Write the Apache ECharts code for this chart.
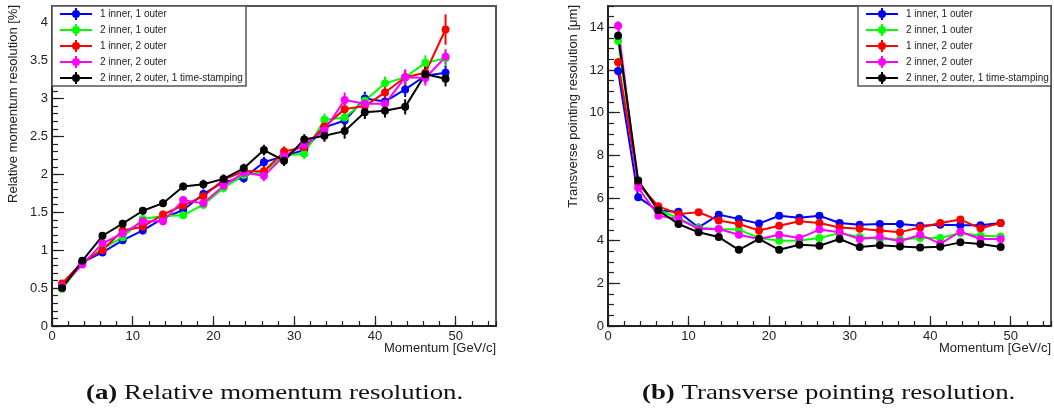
<!DOCTYPE html>
<html>
<head>
<meta charset="utf-8">
<script src="https://cdn.jsdelivr.net/npm/echarts@6/dist/echarts.min.js"></script>
<style>
html, body { margin: 0; padding: 0; background: #fff; }
#main { width: 1054px; height: 410px; }
</style>
</head>
<body>
<div id="main"></div>
<script>
// momentum bin centres [GeV/c]
const momentum = [1.25, 3.75, 6.25, 8.75, 11.25, 13.75, 16.25, 18.75, 21.25, 23.75,
  26.25, 28.75, 31.25, 33.75, 36.25, 38.75, 41.25, 43.75, 46.25, 48.75];

const names = ['1 inner, 1 outer', '2 inner, 1 outer', '1 inner, 2 outer', '2 inner, 2 outer',
  '2 inner, 2 outer, 1 time-stamping'];
const colors = ['#0000ff', '#00ff00', '#ff0000', '#ff00ff', '#000000'];

// (a) relative momentum resolution [%]
const momBlue = [0.53, 0.84, 0.97, 1.13, 1.26, 1.42, 1.53, 1.74, 1.9, 1.95, 2.16, 2.24, 2.32, 2.62, 2.71, 3.0, 2.96, 3.12, 3.3, 3.34];
const momGreen = [0.49, 0.84, 1.02, 1.17, 1.41, 1.45, 1.46, 1.6, 1.82, 1.99, 2.03, 2.25, 2.27, 2.72, 2.75, 2.97, 3.2, 3.28, 3.47, 3.53];
const momRed = [0.56, 0.84, 1.0, 1.26, 1.31, 1.47, 1.59, 1.71, 1.93, 2.04, 2.04, 2.3, 2.36, 2.63, 2.86, 2.9, 3.08, 3.28, 3.34, 3.91];
const momMagenta = [0.52, 0.81, 1.09, 1.22, 1.38, 1.38, 1.66, 1.62, 1.85, 2.02, 1.98, 2.24, 2.39, 2.58, 2.98, 2.93, 2.93, 3.28, 3.27, 3.55];
const momBlack = [0.5, 0.86, 1.19, 1.35, 1.52, 1.62, 1.84, 1.87, 1.94, 2.08, 2.32, 2.18, 2.46, 2.51, 2.57, 2.82, 2.84, 2.89, 3.32, 3.26];
const momErr = [0.03, 0.03, 0.04, 0.05, 0.05, 0.05, 0.05, 0.06, 0.06, 0.06, 0.07, 0.07, 0.07, 0.08, 0.1, 0.09, 0.09, 0.1, 0.1, 0.1];
const momErrRed = [0.03, 0.03, 0.04, 0.05, 0.05, 0.05, 0.05, 0.06, 0.06, 0.06, 0.07, 0.07, 0.07, 0.08, 0.1, 0.09, 0.09, 0.1, 0.1, 0.2];

// (b) transverse pointing resolution [um]
const ptBlue = [11.95, 6.04, 5.4, 5.35, 4.62, 5.22, 5.02, 4.8, 5.17, 5.07, 5.17, 4.83, 4.75, 4.78, 4.78, 4.7, 4.75, 4.72, 4.72, 4.83];
const ptGreen = [13.37, 6.7, 5.45, 5.05, 4.6, 4.55, 4.52, 4.12, 4.0, 4.01, 4.12, 4.36, 4.17, 4.08, 4.05, 4.12, 4.12, 4.36, 4.23, 4.2];
const ptRed = [12.36, 6.68, 5.61, 5.25, 5.33, 4.95, 4.78, 4.48, 4.7, 4.91, 4.83, 4.62, 4.56, 4.48, 4.4, 4.62, 4.83, 4.99, 4.58, 4.83];
const ptMagenta = [14.08, 6.48, 5.17, 5.02, 4.55, 4.55, 4.28, 4.08, 4.28, 4.12, 4.52, 4.39, 4.08, 4.17, 3.97, 4.28, 3.86, 4.42, 4.08, 4.08];
const ptBlack = [13.61, 6.82, 5.42, 4.78, 4.39, 4.17, 3.57, 4.08, 3.57, 3.81, 3.76, 4.08, 3.7, 3.78, 3.73, 3.68, 3.72, 3.92, 3.84, 3.7];
const ptErr = [0.2, 0.08, 0.05, 0.05, 0.05, 0.05, 0.05, 0.05, 0.05, 0.05, 0.05, 0.05, 0.05, 0.05, 0.05, 0.05, 0.05, 0.05, 0.05, 0.05];

const momSets = [[momBlue, momErr], [momGreen, momErr], [momRed, momErrRed], [momMagenta, momErr], [momBlack, momErr]];
const ptSets = [[ptBlue, ptErr], [ptGreen, ptErr], [ptRed, ptErr], [ptMagenta, ptErr], [ptBlack, ptErr]];

const FONT = 'Liberation Sans';
const SERIF = 'Liberation Serif';
const legendIcon = 'path://M0,5L32,5L32,7L0,7Z M15,0L17,0L17,12L15,12Z M20,6A4,4,0,1,1,12,6A4,4,0,1,1,20,6Z';

function errBar(params, api) {
  const x = api.value(0), y = api.value(1), e = api.value(2);
  const p1 = api.coord([x, y - e]);
  const p2 = api.coord([x, y + e]);
  return {
    type: 'line',
    shape: { x1: p1[0], y1: p1[1], x2: p2[0], y2: p2[1] },
    style: { stroke: api.visual('color'), lineWidth: 2 }
  };
}

function majorX(grid) {
  return {
    gridIndex: grid, type: 'value', min: 0, max: 55, interval: 10, position: 'bottom',
    axisLine: { show: true, onZero: false, lineStyle: { color: '#111', width: 1.5 } },
    axisTick: { show: true, inside: true, length: 10, lineStyle: { color: '#222', width: 1.2 } },
    axisLabel: { show: true, margin: 4, showMaxLabel: false, fontFamily: FONT, fontSize: 13, color: '#222' },
    splitLine: { show: false }
  };
}
function minorX(grid) {
  return {
    gridIndex: grid, type: 'value', min: 0, max: 55, interval: 2, position: 'bottom',
    axisLine: { show: false },
    axisTick: { show: true, inside: true, length: 5, lineStyle: { color: '#222', width: 1.2 } },
    axisLabel: { show: false }, splitLine: { show: false }
  };
}
function majorY(grid, max, step) {
  return {
    gridIndex: grid, type: 'value', min: 0, max: max, interval: step, position: 'left',
    axisLine: { show: true, onZero: false, lineStyle: { color: '#111', width: 1.5 } },
    axisTick: { show: true, inside: true, length: 12, lineStyle: { color: '#222', width: 1.2 } },
    axisLabel: { show: true, margin: 4, showMaxLabel: false, fontFamily: FONT, fontSize: 13, color: '#222' },
    splitLine: { show: false }
  };
}
function minorY(grid, max, step) {
  return {
    gridIndex: grid, type: 'value', min: 0, max: max, interval: step, position: 'left',
    axisLine: { show: false },
    axisTick: { show: true, inside: true, length: 6, lineStyle: { color: '#222', width: 1.2 } },
    axisLabel: { show: false }, splitLine: { show: false }
  };
}

const series = [];
function addSeries(sets, xIdx, yIdx, tag) {
  sets.forEach(function (s, i) {
    series.push({
      name: 'err ' + tag + i, type: 'custom', xAxisIndex: xIdx, yAxisIndex: yIdx,
      renderItem: errBar, itemStyle: { color: colors[i] }, silent: true,
      encode: { x: 0, y: 1 },
      data: momentum.map(function (m, k) { return [m, s[0][k], s[1][k]]; })
    });
    series.push({
      name: names[i], type: 'line', xAxisIndex: xIdx, yAxisIndex: yIdx,
      symbol: 'circle', symbolSize: 8, showSymbol: true,
      lineStyle: { width: 2, color: colors[i] }, itemStyle: { color: colors[i] },
      animation: false,
      data: momentum.map(function (m, k) { return [m, s[0][k]]; })
    });
  });
}
addSeries(momSets, 0, 0, 'a');
addSeries(ptSets, 2, 2, 'b');

function legendAt(left) {
  return {
    left: left, top: 8, orient: 'vertical', padding: 0, itemGap: 4,
    itemWidth: 32, itemHeight: 12, icon: legendIcon, selectedMode: false,
    data: names,
    textStyle: { fontFamily: FONT, fontSize: 10, color: '#222', padding: [0, 0, 0, 3] }
  };
}

function caption(x, tag, text) {
  return {
    type: 'text', x: x, y: 393, scaleX: 1.22,
    style: {
      text: '{b|' + tag + '} ' + text, fontFamily: SERIF, fontSize: 22, fill: '#111', verticalAlign: 'middle',
      rich: { b: { fontFamily: SERIF, fontSize: 22, fontWeight: 'bold', fill: '#111' } }
    }
  };
}

const chart = echarts.init(document.getElementById('main'), null, { renderer: 'canvas' });
chart.setOption({
  animation: false,
  backgroundColor: '#fff',
  grid: [
    { left: 52, top: 6, width: 444, height: 320, show: true, borderColor: '#555', borderWidth: 2 },
    { left: 608, top: 6, width: 443, height: 320, show: true, borderColor: '#555', borderWidth: 2 }
  ],
  xAxis: [majorX(0), minorX(0), majorX(1), minorX(1)],
  yAxis: [majorY(0, 4.22, 0.5), minorY(0, 4.22, 0.1), majorY(1, 15, 2), minorY(1, 15, 0.5)],
  legend: [legendAt(60), legendAt(866)],
  series: series,
  graphic: [
    { type: 'rect', z: 3, shape: { x: 52, y: 6, width: 194, height: 80 }, style: { fill: '#fff', stroke: '#555', lineWidth: 1.5 } },
    { type: 'rect', z: 3, shape: { x: 858, y: 6, width: 193, height: 80 }, style: { fill: '#fff', stroke: '#555', lineWidth: 1.5 } },
    { type: 'text', x: 13, y: 5, rotation: Math.PI / 2,
      style: { text: 'Relative momentum resolution [%]', fontFamily: FONT, fontSize: 13, fill: '#222', align: 'right', verticalAlign: 'middle' } },
    { type: 'text', x: 573, y: 5, rotation: Math.PI / 2,
      style: { text: 'Transverse pointing resolution [\u03bcm]', fontFamily: FONT, fontSize: 13, fill: '#222', align: 'right', verticalAlign: 'middle' } },
    { type: 'text', x: 496, y: 348,
      style: { text: 'Momentum [GeV/c]', fontFamily: FONT, fontSize: 13, fill: '#222', align: 'right', verticalAlign: 'middle' } },
    { type: 'text', x: 1051, y: 348,
      style: { text: 'Momentum [GeV/c]', fontFamily: FONT, fontSize: 13, fill: '#222', align: 'right', verticalAlign: 'middle' } },
    caption(86, '(a)', 'Relative momentum resolution.'),
    caption(642, '(b)', 'Transverse pointing resolution.')
  ]
});
</script>
</body>
</html>
